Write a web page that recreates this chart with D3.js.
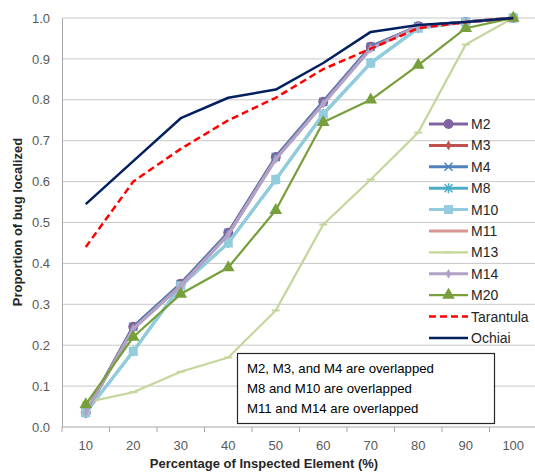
<!DOCTYPE html>
<html>
<head>
<meta charset="utf-8">
<script src="https://cdn.jsdelivr.net/npm/d3@7"></script>
<style>
  body { margin: 0; background: #fff; }
  text { font-family: "Liberation Sans", Arial, sans-serif; }
</style>
</head>
<body>
<div id="chart"></div>
<script>
// Percentage of inspected element (x categories)
const categories = [10, 20, 30, 40, 50, 60, 70, 80, 90, 100];
const yTicks = [0, 0.1, 0.2, 0.3, 0.4, 0.5, 0.6, 0.7, 0.8, 0.9, 1.0];

// proportion of bug localized, per method
const m2  = [0.035, 0.245, 0.35, 0.475, 0.66, 0.795, 0.93, 0.98, 0.99, 1.0];
const m3  = [0.035, 0.245, 0.35, 0.475, 0.66, 0.795, 0.93, 0.98, 0.99, 1.0];
const m4  = [0.035, 0.245, 0.35, 0.475, 0.66, 0.795, 0.93, 0.98, 0.99, 1.0];
const m8  = [0.035, 0.185, 0.345, 0.45, 0.605, 0.765, 0.89, 0.975, 0.99, 1.0];
const m10 = [0.035, 0.185, 0.345, 0.45, 0.605, 0.765, 0.89, 0.975, 0.99, 1.0];
const m11 = [0.035, 0.24, 0.345, 0.47, 0.655, 0.79, 0.925, 0.98, 0.99, 1.0];
const m13 = [0.06, 0.085, 0.135, 0.17, 0.285, 0.495, 0.605, 0.72, 0.935, 1.0];
const m14 = [0.035, 0.24, 0.345, 0.47, 0.655, 0.79, 0.925, 0.98, 0.99, 1.0];
const m20 = [0.055, 0.22, 0.325, 0.39, 0.53, 0.745, 0.80, 0.885, 0.975, 1.0];
const tarantula = [0.44, 0.60, 0.68, 0.75, 0.805, 0.875, 0.925, 0.975, 0.99, 1.0];
const ochiai = [0.545, 0.65, 0.755, 0.805, 0.825, 0.89, 0.966, 0.983, 0.99, 1.0];

const notes = [
  "M2, M3, and M4 are overlapped",
  "M8 and M10 are overlapped",
  "M11 and M14 are overlapped"
];

const series = [
  {name: "M2", values: m2, color: "#8064a2", width: 3, marker: "circle"},
  {name: "M3", values: m3, color: "#c0504d", width: 3, marker: "diamond"},
  {name: "M4", values: m4, color: "#4f81bd", width: 3, marker: "x"},
  {name: "M8", values: m8, color: "#4bacc6", width: 3, marker: "star"},
  {name: "M10", values: m10, color: "#93cddd", width: 3, marker: "square"},
  {name: "M11", values: m11, color: "#d99694", width: 3, marker: "none"},
  {name: "M13", values: m13, color: "#c3d69b", width: 2.25, marker: "dash"},
  {name: "M14", values: m14, color: "#b3a2c7", width: 3, marker: "diamond"},
  {name: "M20", values: m20, color: "#77a03c", width: 2.25, marker: "triangle"},
  {name: "Tarantula", values: tarantula, color: "#ff0000", width: 2.5, marker: "none", dash: "7,4"},
  {name: "Ochiai", values: ochiai, color: "#002060", width: 2.5, marker: "none"}
];

const width = 535, height = 475;
const margins = {top: 18, right: -2, bottom: 48, left: 62};

const svg = d3.select("#chart")
  .append("svg")
    .attr("width", width)
    .attr("height", height)
    .attr("viewBox", [0, 0, width, height]);

const xScale = d3.scaleBand()
  .domain(categories)
  .range([margins.left, width - margins.right]);

const yScale = d3.scaleLinear()
  .domain([0, 1])
  .range([height - margins.bottom, margins.top]);

const cx = d => xScale(d) + xScale.bandwidth() / 2;

// gridlines
svg.append("g")
  .selectAll("line")
  .data(yTicks.slice(1))
  .join("line")
    .attr("x1", margins.left)
    .attr("x2", width)
    .attr("y1", d => yScale(d))
    .attr("y2", d => yScale(d))
    .attr("stroke", "#c8c8c8")
    .attr("stroke-width", 1);

// y axis
const yAxis = d3.axisLeft(yScale).tickValues(yTicks).tickFormat(d3.format(".1f")).tickSize(0).tickPadding(12);
const yGroup = svg.append("g")
  .attr("transform", `translate(${margins.left}, 0)`)
  .call(yAxis);
yGroup.select(".domain").attr("stroke", "#a6a6a6");
yGroup.selectAll("text").attr("font-size", 13).attr("fill", "#595959")
  .style("font-family", "Liberation Sans, Arial, sans-serif");

// x axis: tick marks at the band boundaries, labels at the centres
const xGroup = svg.append("g")
  .attr("transform", `translate(0, ${height - margins.bottom})`);
xGroup.append("line")
  .attr("x1", margins.left).attr("x2", width)
  .attr("stroke", "#a6a6a6");
xGroup.selectAll(".tick-mark")
  .data(categories)
  .join("line")
    .attr("class", "tick-mark")
    .attr("x1", d => xScale(d))
    .attr("x2", d => xScale(d))
    .attr("y1", 0).attr("y2", 5)
    .attr("stroke", "#a6a6a6");
xGroup.selectAll(".tick-label")
  .data(categories)
  .join("text")
    .attr("class", "tick-label")
    .attr("x", d => cx(d))
    .attr("y", 23)
    .attr("text-anchor", "middle")
    .attr("font-size", 13)
    .attr("fill", "#595959")
    .text(d => d);

// axis titles
svg.append("text")
  .attr("x", 264).attr("y", 468)
  .attr("text-anchor", "middle")
  .attr("font-size", 13).attr("font-weight", "bold").attr("fill", "#262626")
  .text("Percentage of Inspected Element (%)");

svg.append("text")
  .attr("transform", "translate(22, 222) rotate(-90)")
  .attr("text-anchor", "middle")
  .attr("font-size", 13).attr("font-weight", "bold").attr("fill", "#262626")
  .text("Proportion of bug localized");

// lines
const line = d3.line()
  .x((d, i) => cx(categories[i]))
  .y(d => yScale(d));

const drawMarker = (g, s, x, y) => {
  const c = s.color;
  if (s.marker === "circle") {
    g.append("circle").attr("cx", x).attr("cy", y).attr("r", 5).attr("fill", c);
  } else if (s.marker === "diamond") {
    g.append("path").attr("d", d3.symbol(d3.symbolDiamond, 28)()).attr("transform", `translate(${x},${y})`).attr("fill", c);
  } else if (s.marker === "square") {
    g.append("rect").attr("x", x - 4.5).attr("y", y - 4.5).attr("width", 9).attr("height", 9).attr("fill", c);
  } else if (s.marker === "triangle") {
    g.append("path").attr("d", d3.symbol(d3.symbolTriangle, 70)()).attr("transform", `translate(${x},${y})`).attr("fill", c);
  } else if (s.marker === "x") {
    g.append("path").attr("d", `M${x-4},${y-4}L${x+4},${y+4}M${x-4},${y+4}L${x+4},${y-4}`)
      .attr("stroke", c).attr("stroke-width", 1.5);
  } else if (s.marker === "star") {
    g.append("path").attr("d", `M${x-4},${y-4}L${x+4},${y+4}M${x-4},${y+4}L${x+4},${y-4}M${x},${y-5}L${x},${y+5}`)
      .attr("stroke", c).attr("stroke-width", 1.5);
  } else if (s.marker === "dash") {
    g.append("line").attr("x1", x - 4).attr("x2", x + 4).attr("y1", y).attr("y2", y)
      .attr("stroke", c).attr("stroke-width", 2);
  }
};

series.forEach(s => {
  const g = svg.append("g").attr("class", "series");
  g.append("path")
    .datum(s.values)
    .attr("d", line)
    .attr("fill", "none")
    .attr("stroke", s.color)
    .attr("stroke-width", s.width)
    .attr("stroke-dasharray", s.dash || null)
    .attr("stroke-linejoin", "round");
  s.values.forEach((v, i) => drawMarker(g, s, cx(categories[i]), yScale(v)));
});

// legend
const legend = svg.append("g").attr("class", "legend");
series.forEach((s, i) => {
  const y = 124 + i * 21.4;
  const g = legend.append("g");
  g.append("line")
    .attr("x1", 429).attr("x2", 468)
    .attr("y1", y).attr("y2", y)
    .attr("stroke", s.color)
    .attr("stroke-width", s.width)
    .attr("stroke-dasharray", s.dash || null);
  drawMarker(g, s, 448.5, y);
  g.append("text")
    .attr("x", 471).attr("y", y + 5)
    .attr("font-size", 14).attr("fill", "#262626")
    .text(s.name);
});

// note box
const box = svg.append("g");
box.append("rect")
  .attr("x", 237.5).attr("y", 353.5)
  .attr("width", 257).attr("height", 70)
  .attr("fill", "#fff")
  .attr("stroke", "#262626").attr("stroke-width", 1.2);
box.selectAll("text")
  .data(notes)
  .join("text")
    .attr("x", 247)
    .attr("y", (d, i) => 373 + i * 20)
    .attr("font-size", 13.2)
    .attr("fill", "#000")
    .text(d => d);
</script>
</body>
</html>
